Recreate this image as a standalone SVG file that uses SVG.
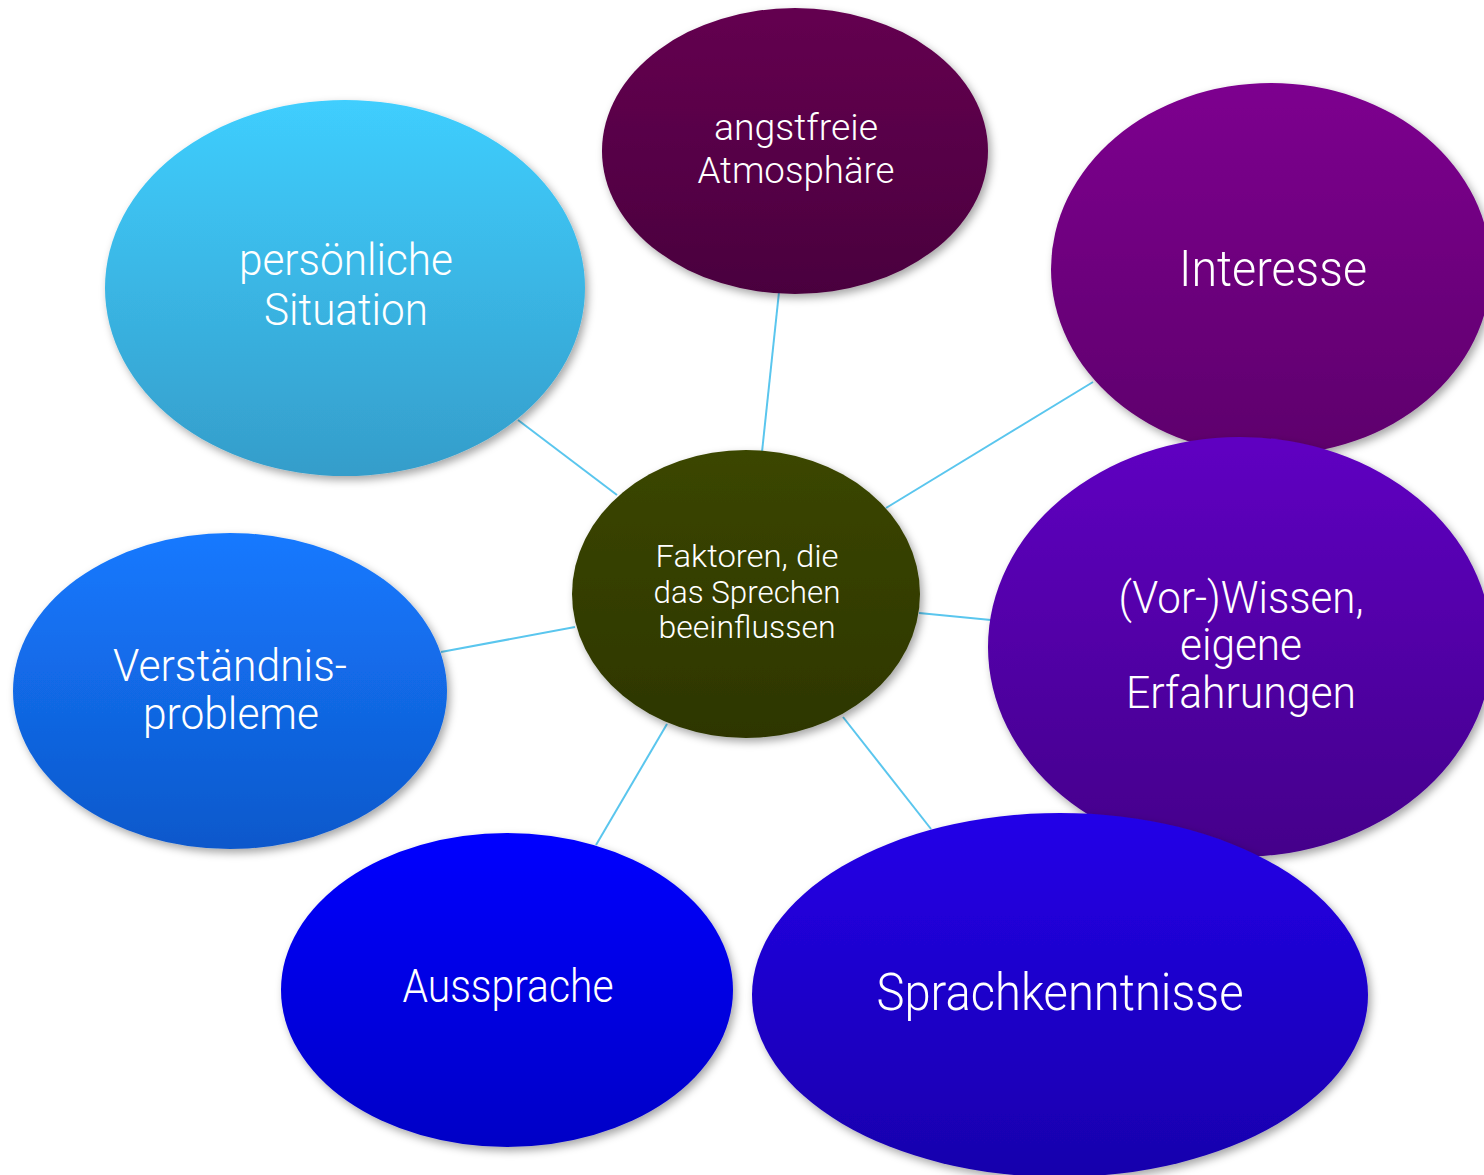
<svg xmlns="http://www.w3.org/2000/svg" width="1484" height="1175" viewBox="0 0 1484 1175">
  <defs>
    <style>
      .link { stroke: #5AC6EE; stroke-width: 2; fill: none; }
      .bubble { filter: url(#shadow); }
      .label { font-family: Roboto, "Liberation Sans", sans-serif; font-weight: 300; fill: #FFFFFF; text-anchor: middle; }
    </style>
    <filter id="shadow" x="-10%" y="-10%" width="125%" height="130%">
      <feDropShadow dx="3" dy="4" stdDeviation="4" flood-color="#000000" flood-opacity="0.35"/>
    </filter>
    <linearGradient id="gSituation" x1="0" y1="0" x2="0" y2="1">
      <stop offset="0" stop-color="#3FCEFE"/>
      <stop offset="1" stop-color="#359DCA"/>
    </linearGradient>
    <linearGradient id="gAtmo" x1="0" y1="0" x2="0" y2="1">
      <stop offset="0" stop-color="#640050"/>
      <stop offset="1" stop-color="#4A003E"/>
    </linearGradient>
    <linearGradient id="gInteresse" x1="0" y1="0" x2="0" y2="1">
      <stop offset="0" stop-color="#7D028F"/>
      <stop offset="1" stop-color="#5E006C"/>
    </linearGradient>
    <linearGradient id="gWissen" x1="0" y1="0" x2="0" y2="1">
      <stop offset="0" stop-color="#5F00C2"/>
      <stop offset="1" stop-color="#44008A"/>
    </linearGradient>
    <linearGradient id="gSprach" x1="0" y1="0" x2="0" y2="1">
      <stop offset="0" stop-color="#2302E8"/>
      <stop offset="1" stop-color="#1800AC"/>
    </linearGradient>
    <linearGradient id="gAussprache" x1="0" y1="0" x2="0" y2="1">
      <stop offset="0" stop-color="#0000FF"/>
      <stop offset="1" stop-color="#0000C6"/>
    </linearGradient>
    <linearGradient id="gVerst" x1="0" y1="0" x2="0" y2="1">
      <stop offset="0" stop-color="#1579FF"/>
      <stop offset="1" stop-color="#0E58CB"/>
    </linearGradient>
    <linearGradient id="gCenter" x1="0" y1="0" x2="0" y2="1">
      <stop offset="0" stop-color="#3B4600"/>
      <stop offset="1" stop-color="#2D3600"/>
    </linearGradient>
  </defs>

  <rect width="1484" height="1175" fill="#FFFFFF"/>

  <!-- spokes from the centre to each factor -->
  <g id="connectors">
    <line class="link" x1="617" y1="495" x2="518" y2="420"/>
    <line class="link" x1="762" y1="452" x2="779" y2="292"/>
    <line class="link" x1="886" y1="508" x2="1093" y2="382"/>
    <line class="link" x1="919" y1="613" x2="991" y2="620"/>
    <line class="link" x1="843" y1="717" x2="931" y2="829"/>
    <line class="link" x1="667" y1="724" x2="596" y2="845"/>
    <line class="link" x1="575" y1="627" x2="441" y2="652"/>
  </g>

  <g id="node-situation">
    <ellipse class="bubble" cx="345" cy="288" rx="240" ry="188" fill="url(#gSituation)"/>
    <text class="label" font-size="45"><tspan x="346" y="275" textLength="214" lengthAdjust="spacingAndGlyphs">persönliche</tspan><tspan x="346" y="325" textLength="164" lengthAdjust="spacingAndGlyphs">Situation</tspan></text>
  </g>

  <g id="node-atmosphaere">
    <ellipse class="bubble" cx="795" cy="151" rx="193" ry="143" fill="url(#gAtmo)"/>
    <text class="label" font-size="37"><tspan x="796" y="140" textLength="164" lengthAdjust="spacingAndGlyphs">angstfreie</tspan><tspan x="796" y="183" textLength="197" lengthAdjust="spacingAndGlyphs">Atmosphäre</tspan></text>
  </g>

  <g id="node-interesse">
    <ellipse class="bubble" cx="1271" cy="269" rx="220" ry="186" fill="url(#gInteresse)"/>
    <text class="label" font-size="50"><tspan x="1273" y="286" textLength="188" lengthAdjust="spacingAndGlyphs">Interesse</tspan></text>
  </g>

  <g id="node-wissen">
    <ellipse class="bubble" cx="1240" cy="647" rx="252" ry="210" fill="url(#gWissen)"/>
    <text class="label" font-size="44"><tspan x="1241" y="613" textLength="245" lengthAdjust="spacingAndGlyphs">(Vor-)Wissen,</tspan><tspan x="1241" y="660" textLength="122" lengthAdjust="spacingAndGlyphs">eigene</tspan><tspan x="1241" y="708" textLength="230" lengthAdjust="spacingAndGlyphs">Erfahrungen</tspan></text>
  </g>

  <g id="node-sprachkenntnisse">
    <ellipse class="bubble" cx="1060" cy="995" rx="308" ry="182" fill="url(#gSprach)"/>
    <text class="label" font-size="52"><tspan x="1060" y="1010" textLength="367" lengthAdjust="spacingAndGlyphs">Sprachkenntnisse</tspan></text>
  </g>

  <g id="node-aussprache">
    <ellipse class="bubble" cx="507" cy="990" rx="226" ry="157" fill="url(#gAussprache)"/>
    <text class="label" font-size="46"><tspan x="508" y="1002" textLength="211" lengthAdjust="spacingAndGlyphs">Aussprache</tspan></text>
  </g>

  <g id="node-verstaendnis">
    <ellipse class="bubble" cx="230" cy="691" rx="217" ry="158" fill="url(#gVerst)"/>
    <text class="label" font-size="45"><tspan x="230" y="681" textLength="234" lengthAdjust="spacingAndGlyphs">Verständnis-</tspan><tspan x="231" y="729" textLength="176" lengthAdjust="spacingAndGlyphs">probleme</tspan></text>
  </g>

  <g id="node-center">
    <ellipse class="bubble" cx="746" cy="594" rx="174" ry="144" fill="url(#gCenter)"/>
    <text class="label" font-size="32"><tspan x="747" y="567" textLength="183" lengthAdjust="spacingAndGlyphs">Faktoren, die</tspan><tspan x="747" y="603" textLength="187" lengthAdjust="spacingAndGlyphs">das Sprechen</tspan><tspan x="747" y="638" textLength="177" lengthAdjust="spacingAndGlyphs">beeinflussen</tspan></text>
  </g>
</svg>
